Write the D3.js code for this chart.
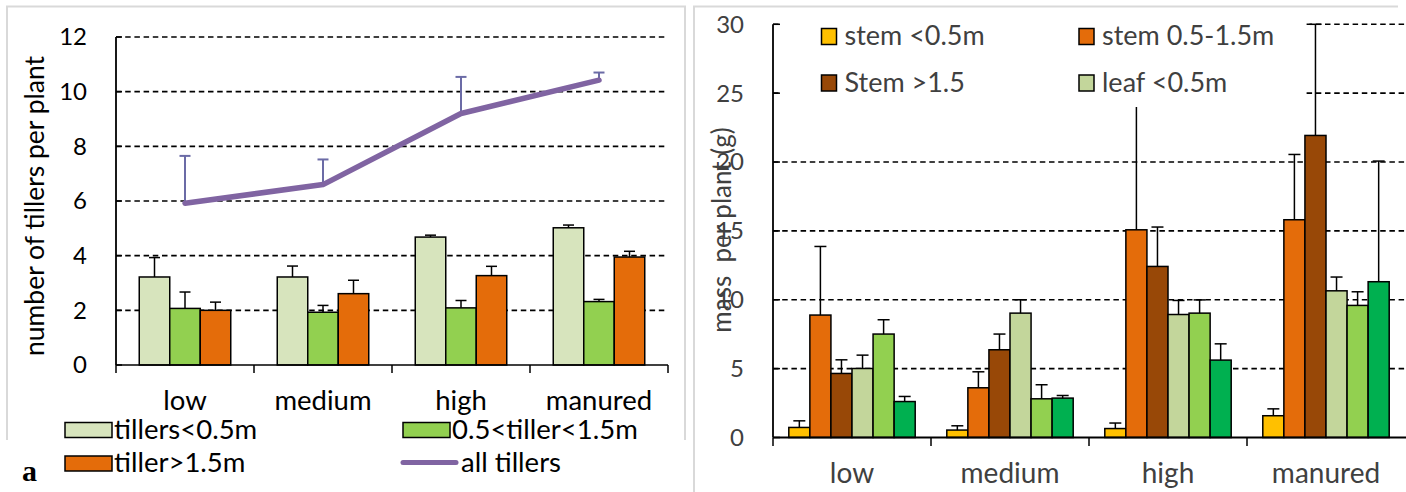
<!DOCTYPE html>
<html>
<head>
<meta charset="utf-8">
<script src="https://cdn.jsdelivr.net/npm/d3@7"></script>
<style>
  html, body { margin: 0; padding: 0; background: #fff; }
  svg { display: block; font-family: Lato, "Open Sans", sans-serif; }
</style>
</head>
<body>
<svg id="chart" width="1406" height="492"></svg>
<script>
// ---------------- DATA ----------------
// Panel a: number of tillers per plant
const leftCategories = ["low", "medium", "high", "manured"];
const leftSeriesNames = ["tillers<0.5m", "0.5<tiller<1.5m", "tiller>1.5m"];
const tillersShort = [3.22, 3.22, 4.68, 5.02];
const tillersShortErr = [0.71, 0.40, 0.07, 0.10];
const tillersMid = [2.07, 1.93, 2.09, 2.32];
const tillersMidErr = [0.60, 0.25, 0.27, 0.08];
const tillersTall = [2.00, 2.61, 3.27, 3.95];
const tillersTallErr = [0.30, 0.49, 0.34, 0.21];
const allTillersName = "all tillers";
const allTillers = [5.92, 6.60, 9.20, 10.42];
const allTillersErr = [1.73, 0.92, 1.34, 0.28];
const leftTicks = [0, 2, 4, 6, 8, 10, 12];
const leftYTitle = "number of tillers per plant";

// Panel b: mass per plant
const rightCategories = ["low", "medium", "high", "manured"];
const rightSeriesNames = ["stem <0.5m", "stem 0.5-1.5m", "Stem >1.5", "leaf <0.5m", "leaf 0.5-1.5m", "leaf >1.5m"];
const stemShort = [0.73, 0.54, 0.65, 1.58];
const stemShortErr = [0.48, 0.31, 0.40, 0.50];
const stemMid = [8.89, 3.61, 15.08, 15.81];
const stemMidErr = [4.98, 1.16, 9.80, 4.74];
const stemTall = [4.65, 6.37, 12.42, 21.93];
const stemTallErr = [0.99, 1.14, 2.86, 8.07];
const leafShort = [5.01, 9.03, 8.93, 10.65];
const leafShortErr = [0.97, 0.97, 1.02, 1.00];
const leafMid = [7.51, 2.81, 9.03, 9.59];
const leafMidErr = [1.04, 1.02, 0.96, 0.99];
const leafTall = [2.61, 2.86, 5.62, 11.31];
const leafTallErr = [0.37, 0.19, 1.18, 8.76];
const rightTicks = [0, 5, 10, 15, 20, 25, 30];
const rightYTitle = "mass  per plant (g)";
const rightLegendShown = ["stem <0.5m", "stem 0.5-1.5m", "Stem >1.5", "leaf <0.5m"];

// ---------------- STYLE ----------------
const leftColors = ["#D7E4BD", "#92D050", "#E46C0A"];
const lineColor = "#8064A2";
const lineErrColor = "#6B6BA6";
const rightColors = ["#FFC000", "#E46C0A", "#984807", "#C3D69B", "#92D050", "#00B050"];
const dash = "5.5,3.7";

const svg = d3.select("#chart");

// panel frames
const frame = svg.append("g").attr("stroke", "#d9d9d9").attr("stroke-width", 2).attr("fill", "none");
frame.append("path").attr("d", "M7,440 V6.5 H685 V440");
frame.append("path").attr("d", "M694,492 V6.5 H1398");

// ================= LEFT PANEL =================
{
  const leftSeries = [
    {name: leftSeriesNames[0], values: tillersShort, err: tillersShortErr, color: leftColors[0]},
    {name: leftSeriesNames[1], values: tillersMid, err: tillersMidErr, color: leftColors[1]},
    {name: leftSeriesNames[2], values: tillersTall, err: tillersTallErr, color: leftColors[2]}
  ];
  const x0 = d3.scaleBand().domain(leftCategories).range([116, 668]).paddingInner(0).paddingOuter(0);
  const gw = x0.bandwidth() * 0.663;
  const x1 = d3.scaleBand().domain(leftSeriesNames).range([(x0.bandwidth() - gw) / 2, (x0.bandwidth() + gw) / 2]);
  const y = d3.scaleLinear().domain([0, 12]).range([365, 37]);
  const g = svg.append("g");

  // gridlines
  g.selectAll(".grid").data(leftTicks.filter(t => t > 0)).join("line")
    .attr("x1", 116).attr("x2", 668).attr("y1", d => y(d)).attr("y2", d => y(d))
    .attr("stroke", "#000").attr("stroke-width", 1.6).attr("stroke-dasharray", dash);

  // bars
  leftSeries.forEach(s => {
    g.selectAll(null).data(leftCategories).join("rect")
      .attr("x", c => x0(c) + x1(s.name))
      .attr("y", (c, i) => y(s.values[i]))
      .attr("width", x1.bandwidth())
      .attr("height", (c, i) => y(0) - y(s.values[i]))
      .attr("fill", s.color).attr("stroke", "#000").attr("stroke-width", 1.5);
    leftCategories.forEach((c, i) => {
      const cx = x0(c) + x1(s.name) + x1.bandwidth() / 2;
      const top = y(s.values[i] + s.err[i]);
      g.append("line").attr("x1", cx).attr("x2", cx).attr("y1", y(s.values[i])).attr("y2", top)
        .attr("stroke", "#000").attr("stroke-width", 1.5);
      g.append("line").attr("x1", cx - 5.5).attr("x2", cx + 5.5).attr("y1", top).attr("y2", top)
        .attr("stroke", "#000").attr("stroke-width", 1.5);
    });
  });

  // axes
  g.append("line").attr("x1", 116).attr("x2", 668).attr("y1", y(0)).attr("y2", y(0)).attr("stroke", "#000").attr("stroke-width", 1.5);
  const bounds = leftCategories.map(c => x0(c)).concat([x0.range()[1]]);
  g.selectAll(null).data(bounds).join("line")
    .attr("x1", d => d).attr("x2", d => d).attr("y1", y(0)).attr("y2", y(0) + 8)
    .attr("stroke", "#000").attr("stroke-width", 1.5);
  g.append("line").attr("x1", 116).attr("x2", 116).attr("y1", y(12)).attr("y2", y(0))
    .attr("stroke", "#000").attr("stroke-width", 1.8);
  g.selectAll(null).data(leftTicks).join("line")
    .attr("x1", 116).attr("x2", 122).attr("y1", d => y(d)).attr("y2", d => y(d))
    .attr("stroke", "#000").attr("stroke-width", 1.5);

  g.selectAll(null).data(leftTicks).join("text")
    .attr("x", 87).attr("y", d => y(d)).attr("dy", "0.35em").attr("text-anchor", "end")
    .attr("font-size", 24).attr("fill", "#000").text(d => d);
  g.selectAll(null).data(leftCategories).join("text")
    .attr("x", c => x0(c) + x0.bandwidth() / 2).attr("y", 410).attr("text-anchor", "middle")
    .attr("font-size", 27.5).attr("fill", "#000").text(c => c);

  g.append("text").attr("transform", "translate(44,206) rotate(-90)").attr("text-anchor", "middle")
    .attr("font-size", 26.5).attr("fill", "#000").text(leftYTitle);

  // all tillers line
  const line = d3.line().x((d, i) => x0(leftCategories[i]) + x0.bandwidth() / 2).y(d => y(d));
  leftCategories.forEach((c, i) => {
    const cx = x0(c) + x0.bandwidth() / 2;
    const top = y(allTillers[i] + allTillersErr[i]);
    g.append("line").attr("x1", cx).attr("x2", cx).attr("y1", y(allTillers[i])).attr("y2", top)
      .attr("stroke", lineErrColor).attr("stroke-width", 2);
    g.append("line").attr("x1", cx - 5.5).attr("x2", cx + 5.5).attr("y1", top).attr("y2", top)
      .attr("stroke", lineErrColor).attr("stroke-width", 2);
  });
  g.append("path").datum(allTillers).attr("d", line).attr("fill", "none")
    .attr("stroke", lineColor).attr("stroke-width", 5.5).attr("stroke-linecap", "round").attr("stroke-linejoin", "round");

  // legend
  const leg = [
    {x: 65, y: 422.5, type: "rect", color: leftColors[0], label: leftSeriesNames[0]},
    {x: 403, y: 422.5, type: "rect", color: leftColors[1], label: leftSeriesNames[1]},
    {x: 65, y: 456, type: "rect", color: leftColors[2], label: leftSeriesNames[2]},
    {x: 403, y: 456, type: "line", color: lineColor, label: allTillersName}
  ];
  leg.forEach(l => {
    if (l.type === "rect") {
      g.append("rect").attr("x", l.x).attr("y", l.y).attr("width", 47).attr("height", 15)
        .attr("fill", l.color).attr("stroke", "#000").attr("stroke-width", 1.5);
    } else {
      g.append("line").attr("x1", l.x).attr("x2", l.x + 53).attr("y1", l.y + 6.5).attr("y2", l.y + 6.5)
        .attr("stroke", l.color).attr("stroke-width", 5).attr("stroke-linecap", "round");
    }
    g.append("text").attr("x", l.x + (l.type === "rect" ? 49 : 58)).attr("y", l.y + 16)
      .attr("font-size", 27.5).attr("fill", "#000").text(l.label);
  });

  svg.append("text").attr("x", 22).attr("y", 481).attr("font-family", "'Liberation Serif', serif")
    .attr("font-weight", "bold").attr("font-size", 30).attr("fill", "#000").text("a");
}

// ================= RIGHT PANEL =================
{
  const rightSeries = [
    {name: rightSeriesNames[0], values: stemShort, err: stemShortErr, color: rightColors[0]},
    {name: rightSeriesNames[1], values: stemMid, err: stemMidErr, color: rightColors[1]},
    {name: rightSeriesNames[2], values: stemTall, err: stemTallErr, color: rightColors[2]},
    {name: rightSeriesNames[3], values: leafShort, err: leafShortErr, color: rightColors[3]},
    {name: rightSeriesNames[4], values: leafMid, err: leafMidErr, color: rightColors[4]},
    {name: rightSeriesNames[5], values: leafTall, err: leafTallErr, color: rightColors[5]}
  ];
  const x0 = d3.scaleBand().domain(rightCategories).range([773, 1405]);
  const gw = x0.bandwidth() * 0.8;
  const x1 = d3.scaleBand().domain(rightSeriesNames).range([(x0.bandwidth() - gw) / 2, (x0.bandwidth() + gw) / 2]);
  const y = d3.scaleLinear().domain([0, 30]).range([437.5, 24.3]);
  const g = svg.append("g");
  const grey = "#404040";

  g.selectAll(null).data(rightTicks.filter(t => t > 0)).join("line")
    .attr("x1", 773).attr("x2", 1406).attr("y1", d => y(d)).attr("y2", d => y(d))
    .attr("stroke", "#000").attr("stroke-width", 1.6).attr("stroke-dasharray", dash);

  rightSeries.forEach(s => {
    g.selectAll(null).data(rightCategories).join("rect")
      .attr("x", c => x0(c) + x1(s.name))
      .attr("y", (c, i) => y(s.values[i]))
      .attr("width", x1.bandwidth())
      .attr("height", (c, i) => y(0) - y(s.values[i]))
      .attr("fill", s.color).attr("stroke", "#000").attr("stroke-width", 1.5);
  });
  rightSeries.forEach(s => {
    rightCategories.forEach((c, i) => {
      const cx = x0(c) + x1(s.name) + x1.bandwidth() / 2;
      const top = y(s.values[i] + s.err[i]);
      g.append("line").attr("x1", cx).attr("x2", cx).attr("y1", y(s.values[i])).attr("y2", top)
        .attr("stroke", "#000").attr("stroke-width", 1.5);
      g.append("line").attr("x1", cx - 6).attr("x2", cx + 6).attr("y1", top).attr("y2", top)
        .attr("stroke", "#000").attr("stroke-width", 1.5);
    });
  });

  // legend box (covers gridlines)
  g.append("rect").attr("x", 781).attr("y", 12).attr("width", 525).attr("height", 95).attr("fill", "#fff");
  const legPos = [{x: 821.5, y: 28.5}, {x: 1079, y: 28.5}, {x: 821.5, y: 75}, {x: 1079, y: 75}];
  rightLegendShown.forEach((name, k) => {
    const p = legPos[k];
    const col = rightColors[rightSeriesNames.indexOf(name)];
    g.append("rect").attr("x", p.x).attr("y", p.y).attr("width", 15).attr("height", 16)
      .attr("fill", col).attr("stroke", "#000").attr("stroke-width", 1.5);
    g.append("text").attr("x", p.x + 23).attr("y", p.y + 16.5).attr("font-size", 27).attr("fill", grey).text(name);
  });

  // axes
  g.append("line").attr("x1", 773).attr("x2", 1406).attr("y1", y(0)).attr("y2", y(0)).attr("stroke", "#000").attr("stroke-width", 1.8);
  const bounds = rightCategories.map(c => x0(c));
  g.selectAll(null).data(bounds).join("line")
    .attr("x1", d => d).attr("x2", d => d).attr("y1", y(0)).attr("y2", y(0) + 8.5)
    .attr("stroke", "#000").attr("stroke-width", 1.5);
  g.append("line").attr("x1", 773).attr("x2", 773).attr("y1", y(30)).attr("y2", y(0))
    .attr("stroke", "#000").attr("stroke-width", 1.8);
  g.selectAll(null).data(rightTicks).join("line")
    .attr("x1", 773).attr("x2", 780).attr("y1", d => y(d)).attr("y2", d => y(d))
    .attr("stroke", "#000").attr("stroke-width", 1.5);

  g.selectAll(null).data(rightTicks).join("text")
    .attr("x", 744).attr("y", d => y(d)).attr("dy", "0.35em").attr("text-anchor", "end")
    .attr("font-size", 24).attr("fill", grey).text(d => d);
  g.selectAll(null).data(rightCategories).join("text")
    .attr("x", c => x0(c) + x0.bandwidth() / 2).attr("y", 483).attr("text-anchor", "middle")
    .attr("font-size", 28).attr("fill", grey).text(c => c);

  g.append("text").attr("transform", "translate(731,230) rotate(-90)").attr("text-anchor", "middle")
    .attr("font-size", 26).attr("fill", grey).style("white-space", "pre").text(rightYTitle);
}
</script>
</body>
</html>
